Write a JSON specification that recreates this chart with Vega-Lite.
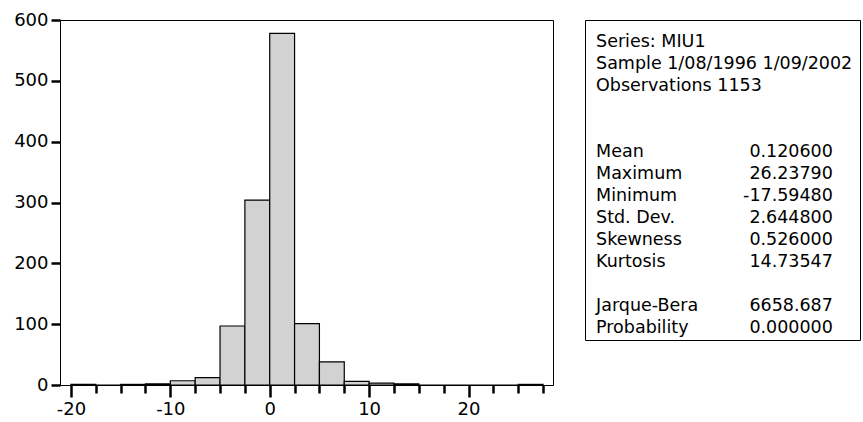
{
  "$schema": "https://vega.github.io/schema/vega-lite/v6.json",
  "padding": {"left": 13, "top": 10, "right": 0, "bottom": 0},
  "background": "white",
  "spacing": 30,
  "config": {
    "view": {"stroke": "black", "strokeWidth": 1},
    "font": "DejaVu Sans",
    "axis": {"labelFont": "DejaVu Sans", "labelFontSize": 18, "labelColor": "black", "domain": false, "grid": false}
  },
  "hconcat": [
    {
      "width": 493,
      "height": 365,
      "data": {"values": [
        {"bin_start": -20, "bin_end": -17.5, "count": 1},
        {"bin_start": -17.5, "bin_end": -15, "count": 0},
        {"bin_start": -15, "bin_end": -12.5, "count": 1},
        {"bin_start": -12.5, "bin_end": -10, "count": 2},
        {"bin_start": -10, "bin_end": -7.5, "count": 7},
        {"bin_start": -7.5, "bin_end": -5, "count": 12},
        {"bin_start": -5, "bin_end": -2.5, "count": 97},
        {"bin_start": -2.5, "bin_end": 0, "count": 304},
        {"bin_start": 0, "bin_end": 2.5, "count": 578},
        {"bin_start": 2.5, "bin_end": 5, "count": 101},
        {"bin_start": 5, "bin_end": 7.5, "count": 38},
        {"bin_start": 7.5, "bin_end": 10, "count": 6},
        {"bin_start": 10, "bin_end": 12.5, "count": 3},
        {"bin_start": 12.5, "bin_end": 15, "count": 2},
        {"bin_start": 15, "bin_end": 17.5, "count": 0},
        {"bin_start": 17.5, "bin_end": 20, "count": 0},
        {"bin_start": 20, "bin_end": 22.5, "count": 0},
        {"bin_start": 22.5, "bin_end": 25, "count": 0},
        {"bin_start": 25, "bin_end": 27.5, "count": 1}
      ]},
      "mark": {"type": "bar", "fill": "#d2d2d2", "stroke": "black", "strokeWidth": 1.2},
      "encoding": {
        "x": {
          "field": "bin_start",
          "type": "quantitative",
          "scale": {"domain": [-21.1, 28.5], "nice": false, "zero": false},
          "axis": {
            "title": null,
            "values": [-20, -17.5, -15, -12.5, -10, -7.5, -5, -2.5, 0, 2.5, 5, 7.5, 10, 12.5, 15, 17.5, 20, 22.5, 25, 27.5],
            "ticks": true,
            "tickColor": "black",
            "tickWidth": 2.5,
            "tickSize": {"condition": {"test": "datum.value % 10 === 0", "value": 12}, "value": 8},
            "labelExpr": "datum.value % 10 === 0 ? toString(datum.value) : ''",
            "labelPadding": 3,
            "labelOverlap": false,
            "labelFlush": false
          }
        },
        "x2": {"field": "bin_end"},
        "y": {
          "field": "count",
          "type": "quantitative",
          "scale": {"domain": [0, 600], "nice": false},
          "axis": {"title": null, "values": [0, 100, 200, 300, 400, 500, 600], "ticks": true, "tickColor": "black", "tickWidth": 2.5, "tickSize": 9, "labelPadding": 3, "labelFlush": false}
        },
        "y2": {"datum": 0}
      }
    },
    {
      "width": 275,
      "height": 320,
      "data": {"values": [
        {"label": "Series: MIU1", "value": ""},
        {"label": "Sample 1/08/1996 1/09/2002", "value": ""},
        {"label": "Observations 1153", "value": ""},
        {"label": "Mean", "value": "0.120600"},
        {"label": "Maximum", "value": "26.23790"},
        {"label": "Minimum", "value": "-17.59480"},
        {"label": "Std. Dev.", "value": "2.644800"},
        {"label": "Skewness", "value": "0.526000"},
        {"label": "Kurtosis", "value": "14.73547"},
        {"label": "Jarque-Bera", "value": "6658.687"},
        {"label": "Probability", "value": "0.000000"}
      ]},
      "encoding": {
        "y": {
          "field": "label",
          "type": "ordinal",
          "scale": {
            "type": "point",
            "padding": 0,
            "range": [22, 308],
            "domain": ["Series: MIU1", "Sample 1/08/1996 1/09/2002", "Observations 1153", "gap1", "gap2", "Mean", "Maximum", "Minimum", "Std. Dev.", "Skewness", "Kurtosis", "gap3", "Jarque-Bera", "Probability"]
          },
          "axis": null
        }
      },
      "layer": [
        {
          "mark": {"type": "text", "align": "left", "baseline": "middle", "font": "DejaVu Sans", "fontSize": 17.5, "color": "black"},
          "encoding": {
            "x": {"datum": 0, "type": "quantitative", "scale": {"domain": [-0.0466, 1.1144], "nice": false, "zero": false}, "axis": null},
            "text": {"field": "label"}
          }
        },
        {
          "mark": {"type": "text", "align": "right", "baseline": "middle", "font": "DejaVu Sans", "fontSize": 17.5, "color": "black"},
          "encoding": {
            "x": {"datum": 1, "type": "quantitative", "axis": null},
            "text": {"field": "value"}
          }
        }
      ]
    }
  ]
}
